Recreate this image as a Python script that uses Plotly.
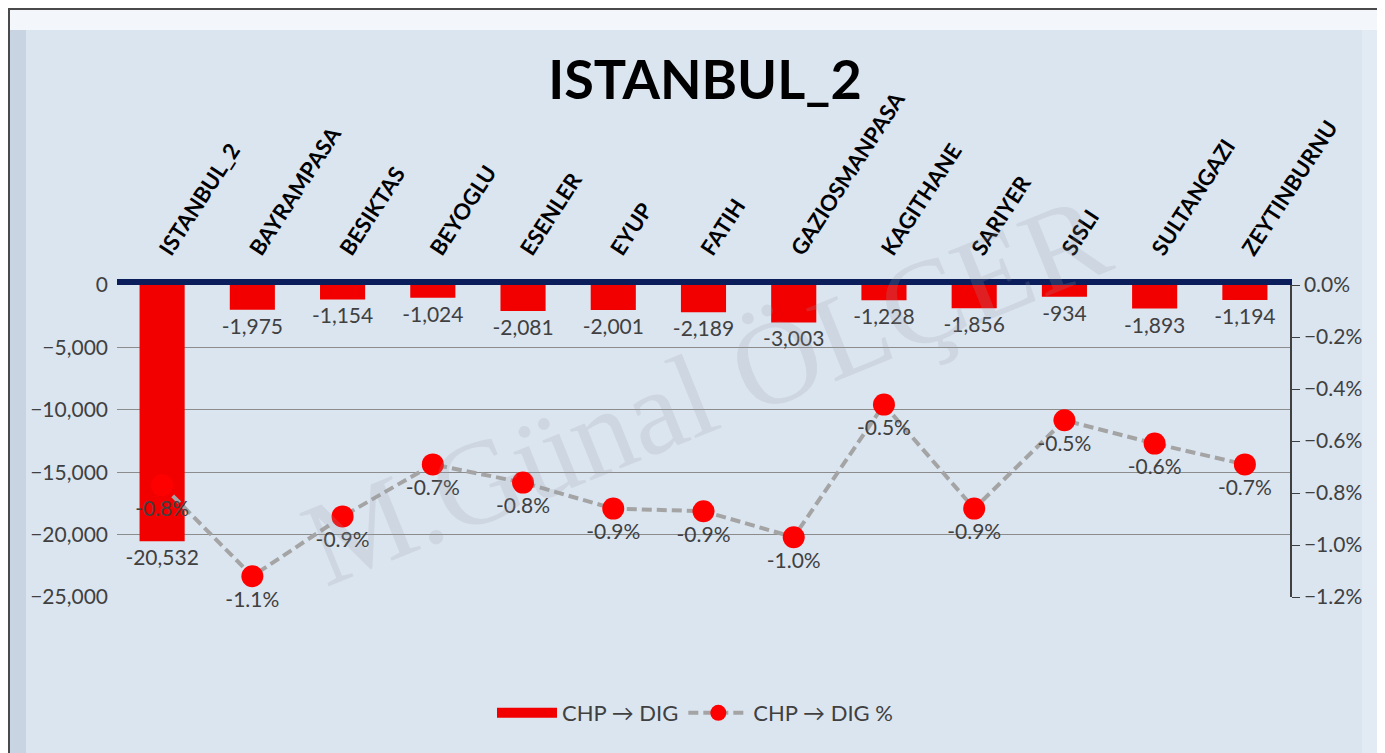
import plotly.graph_objects as go

categories = ["ISTANBUL_2", "BAYRAMPASA", "BESIKTAS", "BEYOGLU", "ESENLER", "EYUP", "FATIH",
              "GAZIOSMANPASA", "KAGITHANE", "SARIYER", "SISLI", "SULTANGAZI", "ZEYTINBURNU"]
votes = [-20532, -1975, -1154, -1024, -2081, -2001, -2189, -3003, -1228, -1856, -934, -1893, -1194]
pct = [-0.0077, -0.0112, -0.0089, -0.0069, -0.0076, -0.0086, -0.0087, -0.0097, -0.0046,
       -0.0086, -0.0052, -0.0061, -0.0069]

OFF = 8  # browser body margin
W, H = 1385 - OFF, 753 - OFF
# plot area in reference (screen) pixels
X0, X1, Y0, Y1 = 117, 1290, 285, 597
L, R, T, B = X0 - OFF, W - (X1 - OFF), Y0 - OFF, H - (Y1 - OFF)
PW, PH = W - L - R, H - T - B

def px(x):
    return (x - OFF - L) / PW

def py(y):
    return 1 - (y - OFF - T) / PH

FONT = "Lato, 'Open Sans', sans-serif"
TXT = "#404040"

fig = go.Figure()
fig.add_trace(go.Bar(
    x=categories, y=votes, name="CHP → DIG", showlegend=False,
    marker=dict(color="#f20000", line=dict(width=0)),
    width=0.5,
    texttemplate="%{y:,}", textposition="outside", constraintext="none",
    textfont=dict(size=21, color=TXT, family=FONT),
    cliponaxis=False,
))
# legend entry for the bars (wide red swatch)
fig.add_trace(go.Scatter(
    x=[None], y=[None], name="CHP → DIG", mode="lines",
    line=dict(color="#f20000", width=16),
))
fig.add_trace(go.Scatter(
    x=categories, y=pct, name="CHP → DIG %", yaxis="y2",
    mode="lines+markers+text",
    line=dict(color="#a4a4a4", width=4, dash="10px,5px"),
    marker=dict(color="#ff0000", size=22, line=dict(width=0)),
    texttemplate="%{y:.1%}", textposition="bottom center",
    textfont=dict(size=21, color=TXT, family=FONT),
    cliponaxis=False,
))

shapes = [
    dict(type="rect", xref="paper", yref="paper", x0=px(9), x1=px(1377), y0=py(30), y1=py(9),
         fillcolor="#f3f7fb", line=dict(width=0), layer="below"),
    dict(type="rect", xref="paper", yref="paper", x0=px(9), x1=px(26), y0=py(753), y1=py(30),
         fillcolor="#c8d4e1", line=dict(width=0), layer="below"),
    dict(type="rect", xref="paper", yref="paper", x0=px(1362), x1=px(1377), y0=py(753), y1=py(30),
         fillcolor="#e2ebf4", line=dict(width=0), layer="below"),
    dict(type="rect", xref="paper", yref="paper", x0=px(9), x1=px(1379), y0=py(760), y1=py(9),
         fillcolor="rgba(0,0,0,0)", line=dict(color="#4a4a4a", width=2), layer="above"),
]

fig.update_layout(
    width=W, height=H,
    margin=dict(l=L, r=R, t=T, b=B, autoexpand=False),
    paper_bgcolor="#dbe5f0",
    plot_bgcolor="rgba(0,0,0,0)",
    font=dict(family=FONT, color=TXT, size=21),
    title=dict(text="<b>ISTANBUL_2</b>", x=(705 - OFF) / W, xanchor="center",
               y=1 - (80 - OFF) / H, yanchor="middle",
               font=dict(size=54, color="#000000", family=FONT)),
    showlegend=True,
    legend=dict(orientation="h", x=px(695), xanchor="center", y=py(713), yanchor="middle",
                font=dict(size=22, color=TXT, family=FONT), bgcolor="rgba(0,0,0,0)",
                itemwidth=60, traceorder="normal"),
    xaxis=dict(side="top", tickangle=-57, showline=True, linecolor="#0b1d5a", linewidth=6,
               showgrid=False, ticks="",
               tickfont=dict(size=22, color="#000000", family=FONT, weight="bold"),
               ticklabelstandoff=8, range=[-0.5, 12.5]),
    yaxis=dict(range=[-25000, 0], dtick=5000, tickformat=",", showgrid=True, gridcolor="#8c8c8c",
               gridwidth=1, zeroline=False, showline=False, ticks="",
               tickfont=dict(size=21, color=TXT, family=FONT), ticklabelstandoff=8),
    yaxis2=dict(range=[-0.012, 0], dtick=0.002, tickformat=".1%", overlaying="y", side="right",
                showgrid=False, zeroline=False, showline=True, linecolor="#404040", linewidth=1.5,
                ticks="outside", ticklen=8, tickcolor="#404040",
                tickfont=dict(size=21, color=TXT, family=FONT)),
    annotations=[
        dict(text="M.Günal ÖLÇER", xref="paper", yref="paper", x=px(705), y=py(390),
             xanchor="center", yanchor="middle",
             showarrow=False, textangle=-22,
             font=dict(family="'Liberation Serif', 'DejaVu Serif', serif", size=120,
                       color="rgba(150,155,165,0.2)")),
    ],
    shapes=shapes,
)

fig.write_html("out.html")
